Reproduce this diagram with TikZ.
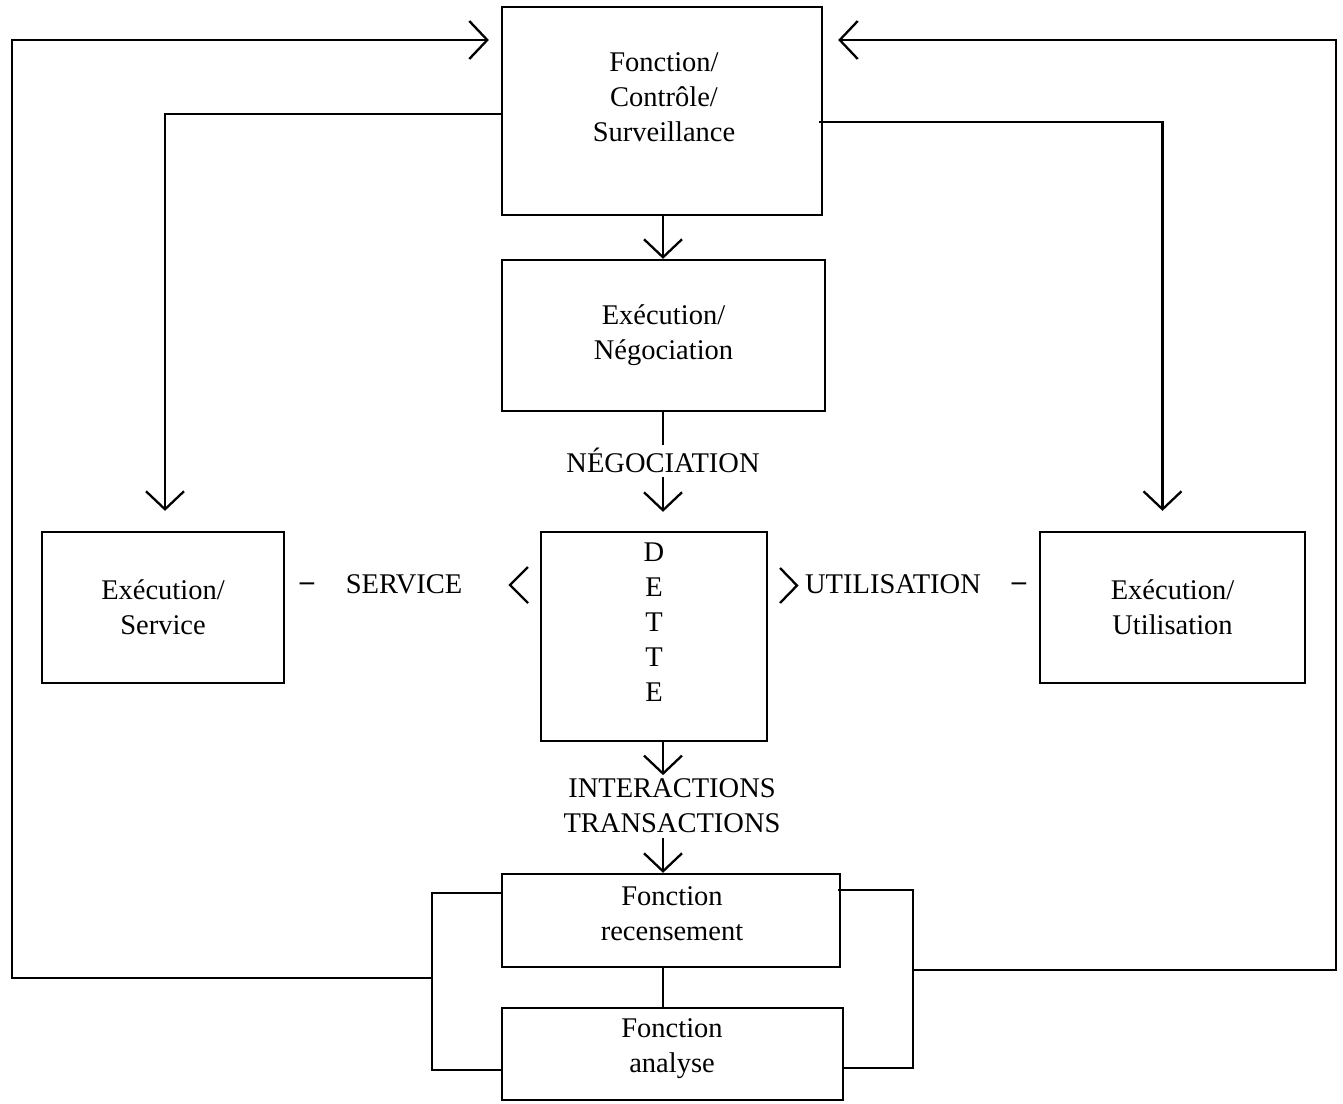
\documentclass[tikz,border=0pt]{standalone}
\usepackage{fontspec}
\setmainfont{Liberation Serif}
\usetikzlibrary{arrows.meta}
\begin{document}
\begin{tikzpicture}[x=1pt,y=-1pt,
  line width=2.3pt,
  every node/.style={font=\fontsize{28.5}{35}\selectfont},
  box/.style={draw, rectangle, inner sep=0pt, align=center},
  txt/.style={inner sep=0pt, align=center},
  arr/.style={-{Straight Barb[length=18pt,width=38pt]}}]
\useasboundingbox (0,0) rectangle (1343,1103);
% boxes
\node[box, minimum width=320pt, minimum height=208pt] (top) at (662,111) {};
\node[txt] (toptxt) at (664,97) {Fonction/\\Contrôle/\\Surveillance};
\node[box, minimum width=323pt, minimum height=151pt] (neg) at (663.5,335.5) {Exécution/\\Négociation};
\node[box, minimum width=242pt, minimum height=151pt] (svc) at (163,607.5) {Exécution/\\Service};
\node[box, minimum width=265pt, minimum height=151pt] (util) at (1172.5,607.5) {Exécution/\\Utilisation};
\node[box, minimum width=226pt, minimum height=209pt] (dette) at (654,636.5) {};
\node[txt] (dettetxt) at (654,622) {D\\E\\T\\T\\E};
\node[box, minimum width=338pt, minimum height=93pt] (rec) at (671,920.5) {};
\node[txt] (rectxt) at (672,914) {Fonction\\recensement};
\node[box, minimum width=341pt, minimum height=92pt] (ana) at (672.5,1054) {};
\node[txt] (anatxt) at (672,1049) {Fonction\\analyse};
% labels
\node[txt] (neglbl) at (663,460) {NÉGOCIATION};
\node[txt] (svclbl) at (404,584) {SERVICE};
\node[txt] (utillbl) at (893,584) {UTILISATION};
\node[txt] (dash1) at (307,587) {\textbf{–}};
\node[txt] (dash2) at (1019,587) {\textbf{–}};
\node[txt] (inter) at (672,806) {INTERACTIONS\\TRANSACTIONS};
% coordinates
\coordinate (c) at (663,0);
\coordinate (n1) at (663,445);
\coordinate (n2) at (663,477);
\coordinate (i2) at (663,838);
% vertical flow
\draw[arr] (top.south -| c) -- (neg.north -| c);
\draw (neg.south -| c) -- (n1);
\draw[arr, shorten >=19pt] (n2) -- (dette.north -| c);
\draw[arr] (dette.south -| c) -- ++(0,33);
\draw[arr] (i2) -- (rec.north -| c);
\draw (rec.south -| c) -- (ana.north -| c);
% top box to side boxes
\draw[arr, shorten >=20pt] (top.west |- 0,114) -| ([xshift=2pt]svc.north);
\draw[arr, shorten >=20pt] ([xshift=-4pt]top.east |- 0,122) -| ([xshift=-10pt]util.north);
% chevrons
\draw[line join=miter] (528,567) -- (510,585) -- (528,603);
\draw[line join=miter] (780,568) -- (797,585.5) -- (780,603);
% brackets
\draw (rec.west |- 0,893) -- (432,893) -- (432,1070) -- (ana.west |- 0,1070);
\draw ([xshift=-3pt]rec.east |- 0,890) -- (913,890) -- (913,1068) -- (ana.east |- 0,1068);
% feedback loops
\draw[arr, shorten >=12pt] (432,978) -- (12,978) |- (top.west |- 0,40);
\draw[arr, shorten >=15pt] (913,970) -- (1336,970) |- (top.east |- 0,40);
\end{tikzpicture}
\end{document}
